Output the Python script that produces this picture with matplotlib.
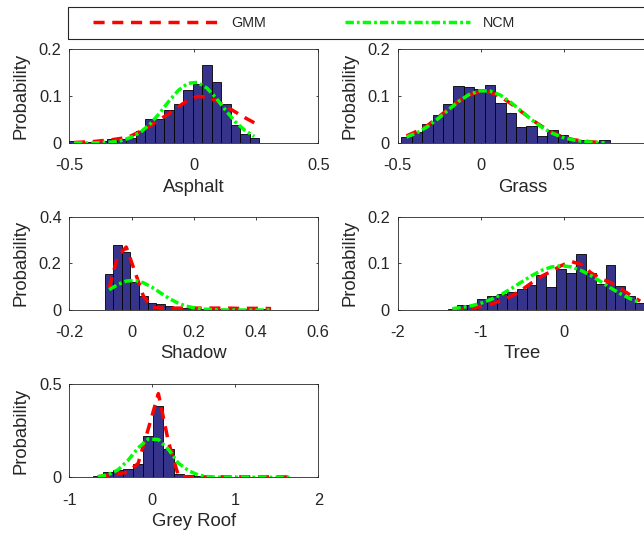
import numpy as np
import matplotlib
matplotlib.use('Agg')
import matplotlib.pyplot as plt
from matplotlib.lines import Line2D
from matplotlib.patches import Rectangle

plt.rcParams['font.family'] = ['Liberation Sans', 'DejaVu Sans']
plt.rcParams['lines.scale_dashes'] = False

# ---------------- data ----------------
class_names = ['Asphalt', 'Grass', 'Shadow', 'Tree', 'Grey Roof']
legend_labels = ['GMM', 'NCM']

# value range of each histogram (20 bins)
asphalt_range = [-0.5, 0.262]
asphalt_prob = [0.004, 0.002, 0.002, 0.005, 0.008, 0.009, 0.010, 0.026, 0.051, 0.051,
                0.070, 0.083, 0.113, 0.126, 0.166, 0.130, 0.083, 0.039, 0.020, 0.011]
asphalt_gmm = [0.001, 0.002, 0.003, 0.005, 0.007, 0.010, 0.015, 0.025, 0.036, 0.050,
               0.062, 0.077, 0.091, 0.099, 0.098, 0.090, 0.078, 0.066, 0.054, 0.043]
asphalt_ncm = [0.000, 0.000, 0.000, 0.001, 0.002, 0.005, 0.012, 0.023, 0.040, 0.063,
               0.089, 0.112, 0.127, 0.129, 0.117, 0.095, 0.069, 0.045, 0.027, 0.014]

grass_range = [-0.478, 0.776]
grass_prob = [0.013, 0.023, 0.041, 0.059, 0.083, 0.121, 0.119, 0.115, 0.123, 0.085,
              0.063, 0.033, 0.036, 0.015, 0.027, 0.017, 0.004, 0.007, 0.0015, 0.006]
grass_gmm = [0.015, 0.025, 0.037, 0.054, 0.072, 0.089, 0.102, 0.109, 0.108, 0.099,
             0.084, 0.067, 0.050, 0.035, 0.022, 0.013, 0.007, 0.004, 0.002, 0.001]
grass_ncm = [0.0125, 0.0217, 0.0346, 0.0512, 0.070, 0.0886, 0.103, 0.111, 0.1107, 0.102,
             0.0866, 0.068, 0.0495, 0.0332, 0.0205, 0.0118, 0.0062, 0.003, 0.0014, 0.0006]

shadow_range = [-0.0855, 0.462]
shadow_prob = [0.153, 0.279, 0.247, 0.119, 0.060, 0.030, 0.024, 0.016, 0.012, 0.010,
               0.007, 0.005, 0.004, 0.003, 0.003, 0.004, 0.003, 0.002, 0.003, 0.002]
shadow_gmm = [0.095, 0.230, 0.270, 0.166, 0.061, 0.012, 0.008, 0.008, 0.008, 0.008,
              0.008, 0.008, 0.008, 0.008, 0.008, 0.007, 0.007, 0.007, 0.007, 0.006]
shadow_ncm = [0.087, 0.109, 0.124, 0.127, 0.117, 0.098, 0.074, 0.050, 0.031, 0.017,
              0.009, 0.004, 0.002, 0.001, 0.000, 0.000, 0.000, 0.000, 0.000, 0.000]

tree_range = [-1.4, 0.976]
tree_prob = [0.002, 0.010, 0.010, 0.023, 0.031, 0.034, 0.039, 0.045, 0.053, 0.074,
             0.049, 0.087, 0.079, 0.120, 0.079, 0.055, 0.096, 0.052, 0.031, 0.016]
tree_gmm = [0.001, 0.002, 0.004, 0.008, 0.013, 0.021, 0.030, 0.043, 0.058, 0.072,
            0.083, 0.095, 0.104, 0.098, 0.080, 0.067, 0.059, 0.046, 0.032, 0.019]
tree_ncm = [0.003, 0.0055, 0.0095, 0.0154, 0.0236, 0.034, 0.0465, 0.060, 0.0733, 0.0847,
            0.0922, 0.095, 0.0925, 0.085, 0.074, 0.061, 0.0474, 0.0348, 0.0241, 0.0158]

greyroof_range = [-0.718, 1.716]
greyroof_prob = [0.005, 0.031, 0.041, 0.043, 0.070, 0.221, 0.383, 0.151, 0.018, 0.011,
                 0.007, 0.004, 0.003, 0.002, 0.002, 0.002, 0.002, 0.001, 0.002, 0.002]
greyroof_gmm = [0.003, 0.010, 0.018, 0.028, 0.075, 0.260, 0.450, 0.190, 0.005, 0.002,
                0.002, 0.002, 0.002, 0.002, 0.002, 0.002, 0.002, 0.002, 0.002, 0.002]
greyroof_ncm = [0.0033, 0.013, 0.040, 0.0915, 0.158, 0.206, 0.203, 0.150, 0.075, 0.0355,
                0.0113, 0.0027, 0.0005, 0.0, 0.0, 0.0, 0.0, 0.0, 0.0, 0.0]

asphalt_xticks = [-0.5, 0, 0.5]
grass_xticks = [-0.5, 0, 0.5, 1]
shadow_xticks = [-0.2, 0, 0.2, 0.4, 0.6]
tree_xticks = [-2, -1, 0, 1]
greyroof_xticks = [-1, 0, 1, 2]
asphalt_yticks = [0, 0.1, 0.2]
grass_yticks = [0, 0.1, 0.2]
shadow_yticks = [0, 0.2, 0.4]
tree_yticks = [0, 0.1, 0.2]
greyroof_yticks = [0, 0.5]

# ---------------- layout / style ----------------
W, H = 644, 535
fig = plt.figure(figsize=(W / 100, H / 100), dpi=100)

panels = [
    (asphalt_range, asphalt_prob, asphalt_gmm, asphalt_ncm, asphalt_xticks, asphalt_yticks),
    (grass_range, grass_prob, grass_gmm, grass_ncm, grass_xticks, grass_yticks),
    (shadow_range, shadow_prob, shadow_gmm, shadow_ncm, shadow_xticks, shadow_yticks),
    (tree_range, tree_prob, tree_gmm, tree_ncm, tree_xticks, tree_yticks),
    (greyroof_range, greyroof_prob, greyroof_gmm, greyroof_ncm, greyroof_xticks, greyroof_yticks),
]
# pixel boxes (left, top, width, height)
boxes = [(69.3, 49.0, 249, 94.0), (397.6, 49.0, 249.5, 94.0),
         (69.3, 216.7, 249, 93.3), (397.6, 216.7, 249.5, 93.3),
         (69.3, 384.3, 249, 93.0)]

BAR_COLOR = '#36338a'
TXT = '#262626'
RED_STYLE = dict(color='#ff0000', lw=2.5, dashes=(8.0, 5.5))
GRN_STYLE = dict(color='#00ff00', lw=2.5, dashes=(6.0, 2.2, 2.0, 2.2))
TICK_FS = 11.8
LABEL_FS = 13.3

for name, (rng, prob, gmm, ncm, xt, yt), (l, t, w, h) in zip(class_names, panels, boxes):
    ax = fig.add_axes([l / W, 1 - (t + h) / H, w / W, h / H])
    edges = np.linspace(rng[0], rng[1], len(prob) + 1)
    centers = 0.5 * (edges[:-1] + edges[1:])
    ax.bar(edges[:-1], prob, width=np.diff(edges), align='edge',
           color=BAR_COLOR, edgecolor='black', linewidth=0.6, zorder=2)
    ax.plot(centers, gmm, zorder=3, **RED_STYLE)
    ax.plot(centers, ncm, zorder=4, **GRN_STYLE)
    ax.set_xlim(xt[0], xt[-1])
    ax.set_ylim(yt[0], yt[-1])
    ax.set_xticks(xt)
    # labels whose centre falls outside the figure are not visible in the original
    xlabels = []
    for v in xt:
        px = l + (v - xt[0]) / (xt[-1] - xt[0]) * w
        xlabels.append('%g' % v if px < W - 4 else '')
    ax.set_xticklabels(xlabels)
    ax.set_yticks(yt)
    ax.set_yticklabels(['%g' % v for v in yt])
    ax.tick_params(direction='in', length=1.8, width=0.6, top=True, right=True,
                   labelsize=TICK_FS, colors=TXT, labelcolor=TXT)
    ax.tick_params(axis='x', pad=11.0)
    ax.tick_params(axis='y', pad=5.5)
    for s in ax.spines.values():
        s.set_color(TXT)
        s.set_linewidth(0.6)
    ax.set_xlabel(name, fontsize=LABEL_FS, color=TXT)
    ax.set_ylabel('Probability', fontsize=LABEL_FS, color=TXT)
    ax.xaxis.set_label_coords(0.5, -35.5 / h)
    ax.yaxis.set_label_coords(-39.5 / w, 0.5)

# legend
handles = [Line2D([], [], **RED_STYLE), Line2D([], [], **GRN_STYLE)]
fig.add_artist(Rectangle((68 / W, 1 - 39 / H), 700 / W, 31.5 / H,
                         transform=fig.transFigure, fill=False,
                         edgecolor=TXT, linewidth=0.8))
fig.legend(handles, legend_labels, ncol=2, loc='center left',
           bbox_to_anchor=(93 / W, 1 - 23.3 / H), frameon=False,
           borderpad=0, borderaxespad=0, fontsize=10.3,
           handlelength=8.7, handletextpad=0.95, columnspacing=5.55,
           labelcolor=TXT)

fig.savefig('out.png', dpi=100)
